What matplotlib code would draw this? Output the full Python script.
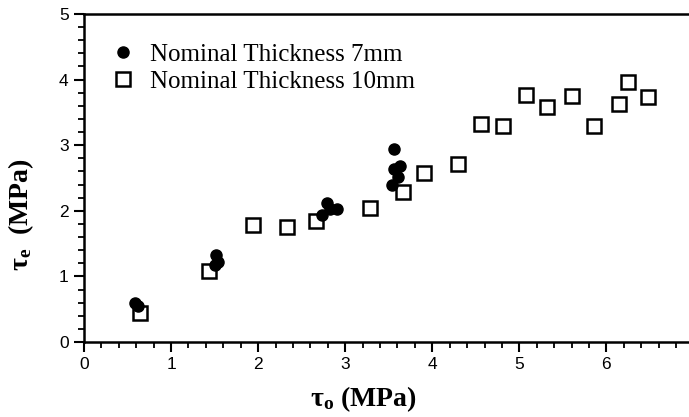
import matplotlib
matplotlib.use("Agg")
import matplotlib.pyplot as plt
from matplotlib.ticker import MultipleLocator

# Data
x7 = [0.58, 0.62, 1.52, 1.54, 1.50, 2.79, 2.73, 2.90, 2.82, 3.56, 3.63, 3.56, 3.61, 3.54]
y7 = [0.59, 0.55, 1.33, 1.22, 1.17, 2.12, 1.94, 2.02, 2.03, 2.94, 2.68, 2.63, 2.51, 2.39]

x10 = [0.64, 1.43, 1.94, 2.33, 2.67, 3.28, 3.66, 3.91, 4.30, 4.56, 4.81, 5.08,
       5.32, 5.61, 5.86, 6.15, 6.25, 6.48]
y10 = [0.44, 1.08, 1.78, 1.76, 1.84, 2.05, 2.29, 2.58, 2.72, 3.32, 3.30, 3.77,
       3.58, 3.75, 3.30, 3.63, 3.97, 3.73]

label7 = "Nominal Thickness 7mm"
label10 = "Nominal Thickness 10mm"
xticks = [0, 1, 2, 3, 4, 5, 6, 7]
yticks = [0, 1, 2, 3, 4, 5]

serif = "Liberation Serif"
plt.rcParams["mathtext.fontset"] = "custom"
plt.rcParams["mathtext.rm"] = serif
plt.rcParams["mathtext.it"] = serif + ":italic"
plt.rcParams["mathtext.bf"] = serif + ":bold"

fig = plt.figure(figsize=(6.89, 4.17), dpi=100)
ax = fig.add_axes([84/689, 75/417, (693.5-84)/689, 328/417])

ax.plot(x10, y10, linestyle="none", marker="s", markersize=10.5,
        markerfacecolor="white", markeredgecolor="black", markeredgewidth=1.8,
        label=label10, zorder=2)
ax.plot(x7, y7, linestyle="none", marker="o", markersize=8,
        markerfacecolor="black", markeredgecolor="black", label=label7, zorder=3)

ax.set_xlim(0, 7)
ax.set_ylim(0, 5)
ax.set_xticks(xticks)
ax.set_yticks(yticks)
ax.xaxis.set_minor_locator(MultipleLocator(0.2))
ax.yaxis.set_minor_locator(MultipleLocator(0.2))
ax.tick_params(which="major", direction="out", length=7, width=1.5,
               labelsize=12.5, pad=4)
ax.tick_params(which="minor", direction="out", length=4, width=1.3)
for lab in ax.get_xticklabels() + ax.get_yticklabels():
    lab.set_fontfamily("Liberation Sans")
for s in ax.spines.values():
    s.set_linewidth(1.8)

ax.set_xlabel(r"τ$_\mathbf{o}$ (MPa)", fontfamily=serif, fontweight="bold",
              fontsize=20)
ax.set_ylabel(r"τ$_\mathbf{e}$  (MPa)", fontfamily=serif, fontweight="bold",
              fontsize=20)
ax.xaxis.set_label_coords(0.459, -0.128)
ax.yaxis.set_label_coords(-0.078, 0.389)

h, l = ax.get_legend_handles_labels()
leg = ax.legend(h[::-1], l[::-1], loc="upper left", bbox_to_anchor=(0.0, 0.98),
                frameon=False, prop={"family": serif, "size": 18},
                handletextpad=0.45, labelspacing=0.2, borderaxespad=0.6,
                handlelength=1.3, borderpad=0.3)

fig.savefig("out.png", dpi=100)
